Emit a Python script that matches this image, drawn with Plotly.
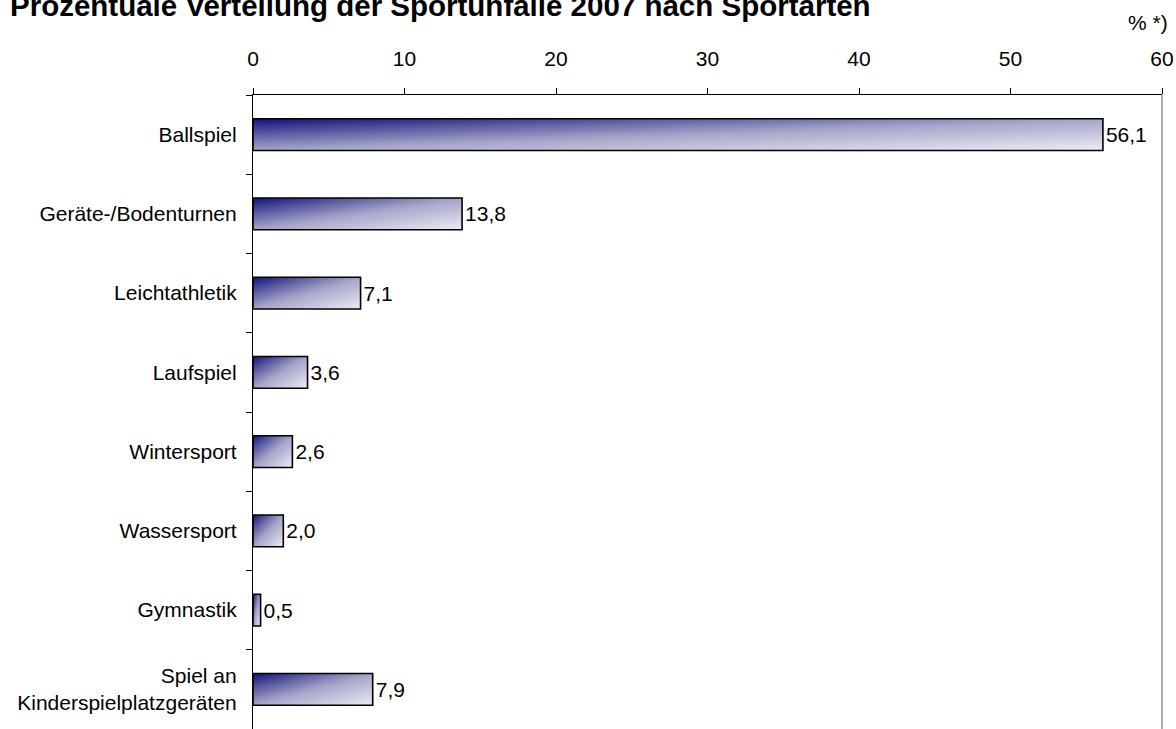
import base64
import plotly.graph_objects as go

# ---- data ----
categories = [
    "Ballspiel",
    "Geräte-/Bodenturnen",
    "Leichtathletik",
    "Laufspiel",
    "Wintersport",
    "Wassersport",
    "Gymnastik",
    "Spiel an<br>Kinderspielplatzgeräten",
]
values = [56.1, 13.8, 7.1, 3.6, 2.6, 2.0, 0.5, 7.9]
x_ticks = [0, 10, 20, 30, 40, 50, 60]

title_text = "Prozentuale Verteilung der Sportunfälle 2007 nach Sportarten"
unit_text = "% *)"

FONT = "Arial, Liberation Sans, sans-serif"
FS = 21
BAR_W = 0.4

# diagonal gradient (top-left dark navy -> bottom-right light lavender)
svg = (
    '<svg xmlns="http://www.w3.org/2000/svg" width="100" height="100" '
    'viewBox="0 0 100 100" preserveAspectRatio="none">'
    '<defs><linearGradient id="g" x1="0" y1="0" x2="1" y2="1">'
    '<stop offset="0" stop-color="#12127a"/>'
    '<stop offset="0.25" stop-color="#5c5ca2"/>'
    '<stop offset="0.5" stop-color="#a4a4c8"/>'
    '<stop offset="1" stop-color="#ececf6"/>'
    '</linearGradient></defs>'
    '<rect x="0" y="0" width="100" height="100" fill="url(#g)"/></svg>'
)
uri = "data:image/svg+xml;base64," + base64.b64encode(svg.encode()).decode()

fig = go.Figure()
fig.add_trace(go.Bar(
    x=values,
    y=categories,
    orientation="h",
    width=BAR_W,
    marker=dict(color="rgba(0,0,0,0)", line=dict(color="black", width=1.6)),
    texttemplate="%{x:.1f}",
    textposition="outside",
    textfont=dict(family=FONT, size=FS, color="black"),
    cliponaxis=False,
    hoverinfo="x+y",
))

images = []
for c, v in zip(categories, values):
    images.append(dict(
        source=uri, xref="x", yref="y", x=0, y=c,
        sizex=v, sizey=BAR_W, xanchor="left", yanchor="middle",
        sizing="stretch", layer="below",
    ))

fig.update_layout(
    width=1176,
    height=729,
    margin=dict(l=253, r=14, t=95, b=0),
    paper_bgcolor="white",
    plot_bgcolor="white",
    separators=",.",
    showlegend=False,
    font=dict(family=FONT, size=FS, color="black"),
    images=images,
    title=dict(
        text="<b>" + title_text + "</b>",
        font=dict(family=FONT, size=29.5, color="black"),
        x=10 / 1176, xanchor="left", xref="container",
        y=1 - 6 / 729, yanchor="middle", yref="container",
    ),
    xaxis=dict(
        side="top",
        range=[0, 60],
        tickvals=x_ticks,
        ticks="outside",
        ticklen=6,
        tickcolor="black",
        tickwidth=1,
        ticklabelstandoff=14,
        showline=True,
        linecolor="black",
        linewidth=1.2,
        showgrid=False,
        zeroline=False,
        tickfont=dict(family=FONT, size=FS, color="black"),
    ),
    yaxis=dict(
        autorange="reversed",
        type="category",
        tickson="boundaries",
        ticks="outside",
        ticklen=6,
        tickcolor="black",
        showline=True,
        linecolor="black",
        linewidth=1.2,
        showgrid=False,
        zeroline=False,
        ticklabelstandoff=11,
        tickfont=dict(family=FONT, size=FS, color="black"),
    ),
    shapes=[dict(
        type="line", xref="paper", yref="paper",
        x0=1, x1=1, y0=0, y1=1,
        line=dict(color="#909090", width=1.5),
    )],
    annotations=[dict(
        text=unit_text, xref="paper", yref="paper",
        x=1 + 8 / 909, y=1 + 73 / 634, xanchor="right", yanchor="middle",
        showarrow=False, font=dict(family=FONT, size=FS, color="black"),
    )],
)

fig.write_html(
    "out.html",
    config={"displayModeBar": False},
    post_script="document.body.style.margin='0';document.body.style.padding='0';",
)
